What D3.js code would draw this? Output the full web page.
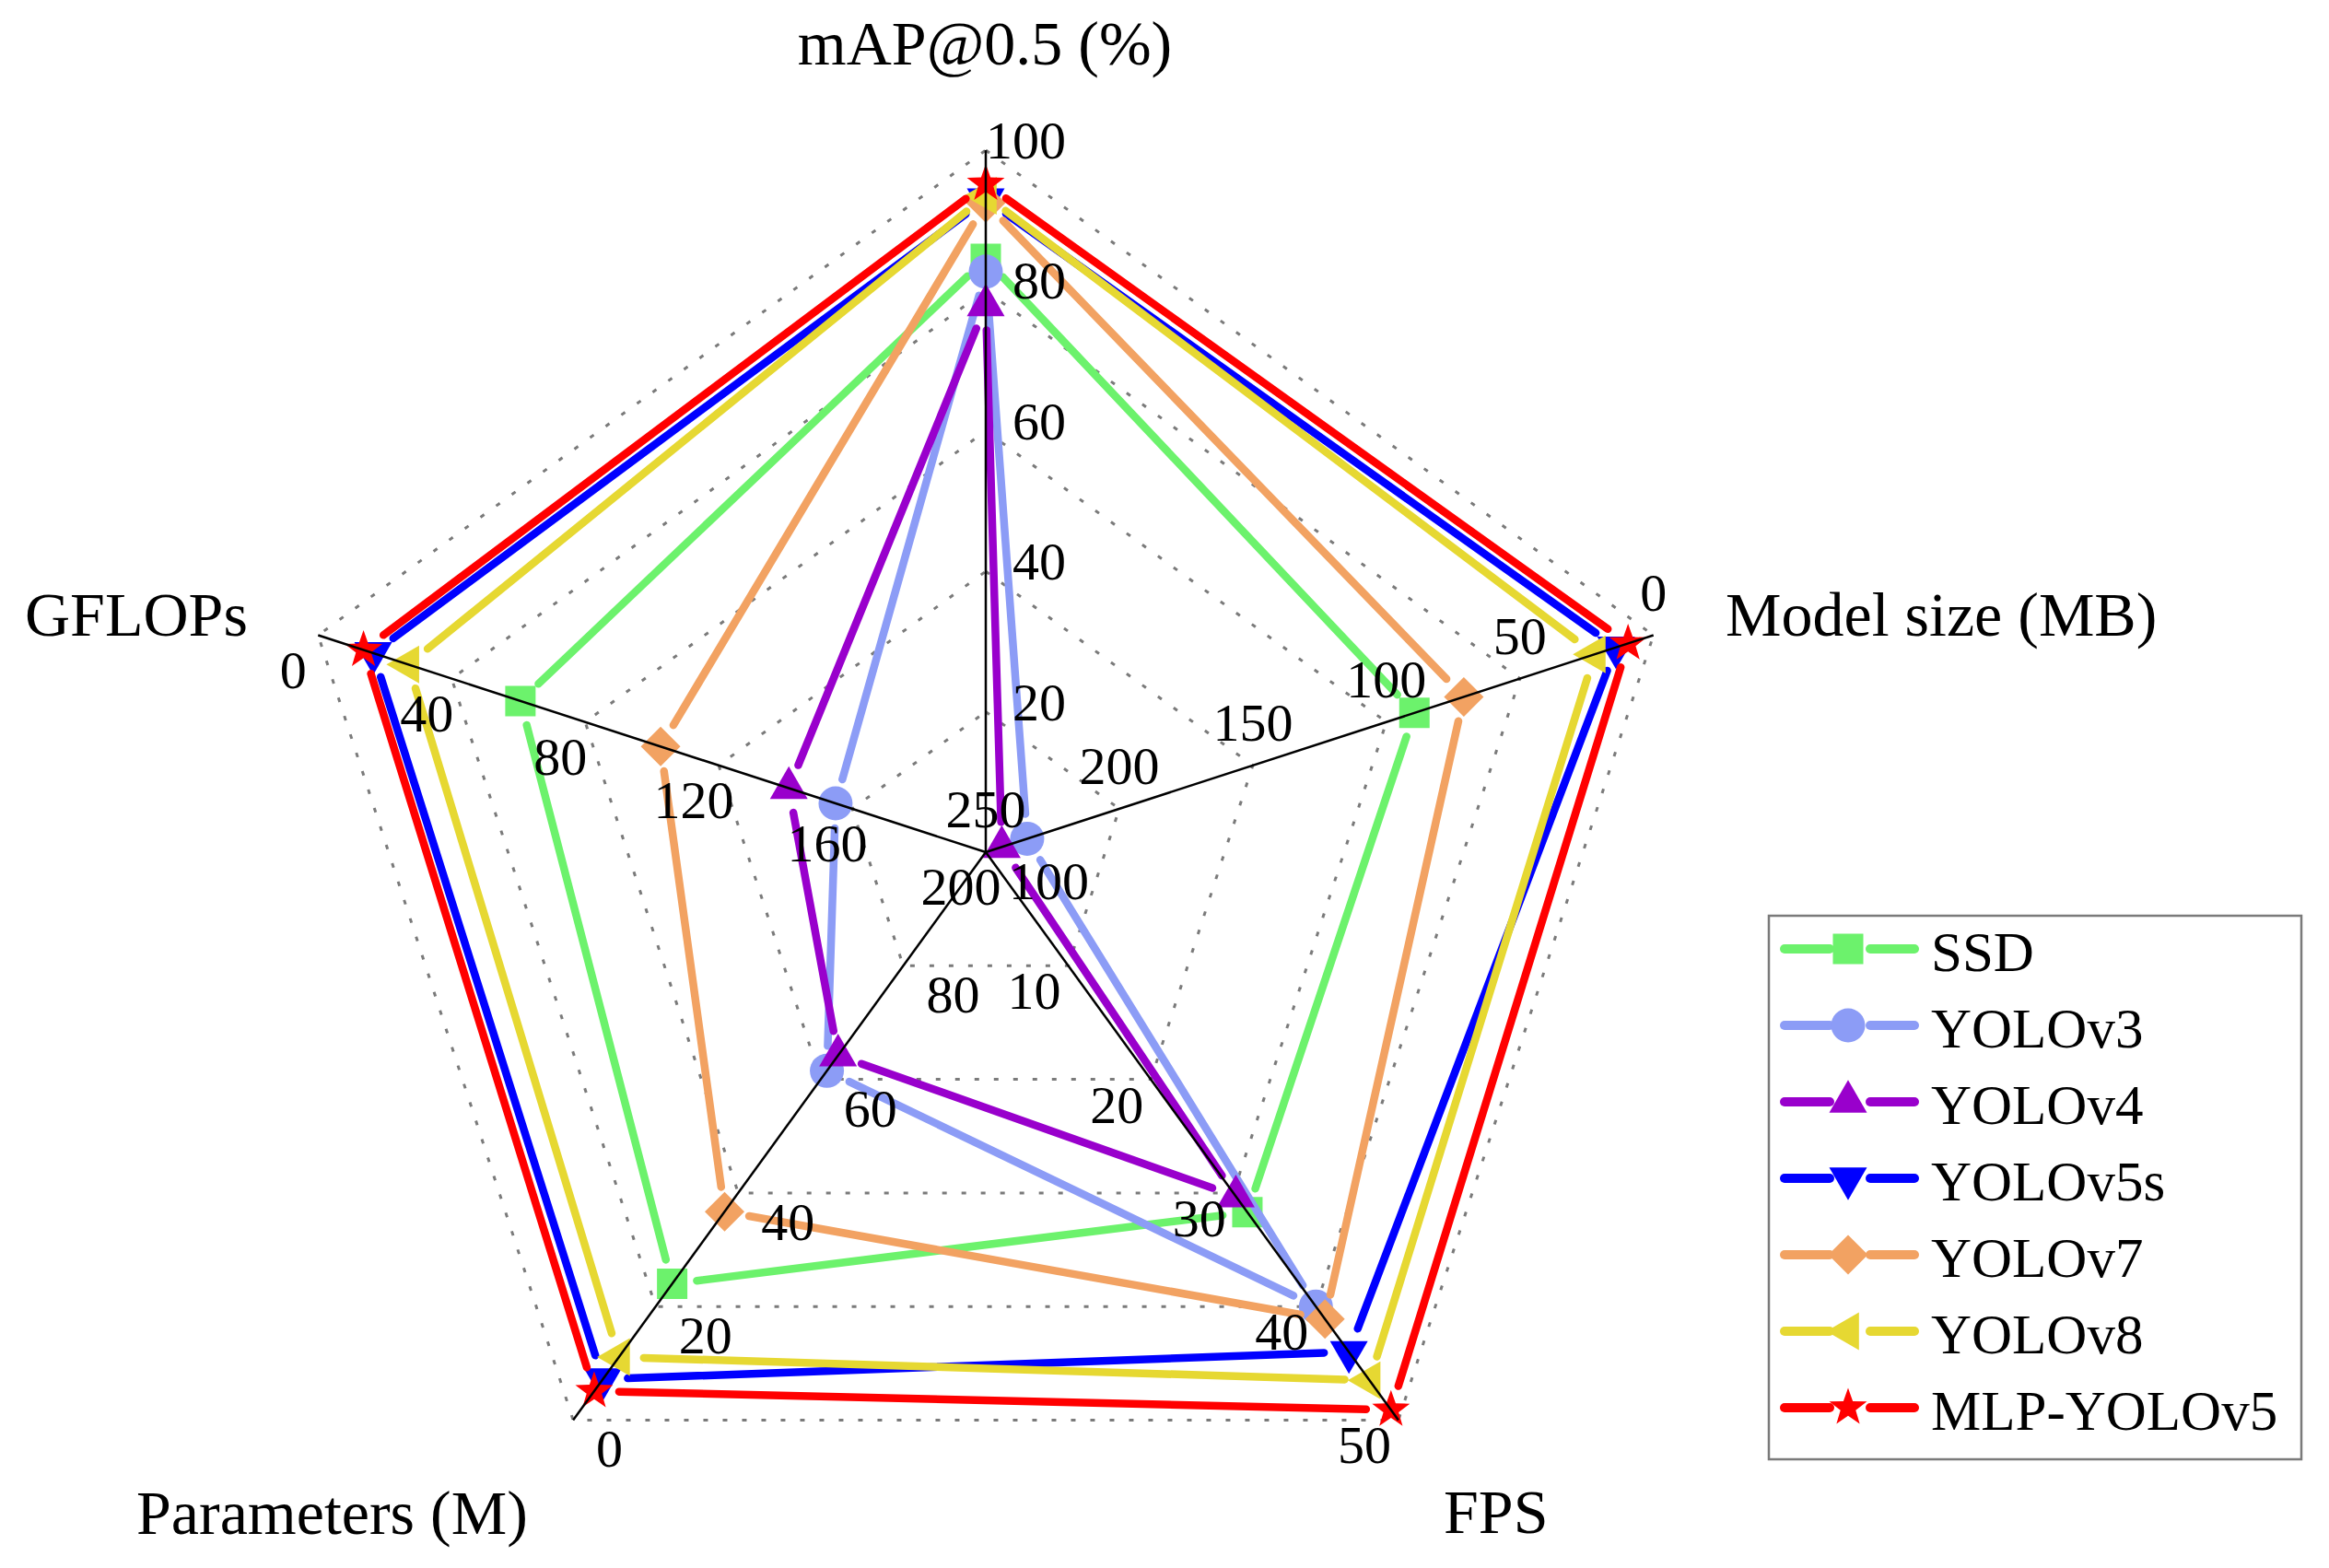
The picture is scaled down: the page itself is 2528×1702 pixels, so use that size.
<!DOCTYPE html>
<html>
<head>
<meta charset="utf-8">
<script src="https://cdn.jsdelivr.net/npm/d3@7"></script>
<style>
  html, body { margin: 0; padding: 0; background: #fff; }
  svg { display: block; }
  text { font-family: "Liberation Serif", "Times New Roman", serif; fill: #000; }
</style>
</head>
<body>
<svg id="chart" width="2528" height="1702"></svg>
<script>
// ---------------- DATA ----------------
const axisNames = ["mAP@0.5 (%)", "Model size (MB)", "FPS", "Parameters (M)", "GFLOPs"];
const models = ["SSD", "YOLOv3", "YOLOv4", "YOLOv5s", "YOLOv7", "YOLOv8", "MLP-YOLOv5"];
const mAP       = [84.5, 82.7, 77.9, 93.0, 92.5, 93.5, 95.2];
const modelSize = [89.5, 234.5, 244, 14, 71, 22, 9.5];
const fps       = [31.7, 40.0, 30.3, 44.0, 41.1, 46.5, 49.1];
const params    = [24.0, 61.5, 64.2, 7.2, 36.7, 11.1, 5.1];
const gflops    = [60.6, 155, 141, 16.5, 102.6, 27, 13.6];

const mapTicks   = [20, 40, 60, 80, 100];
const sizeTicks  = [0, 50, 100, 150, 200, 250];
const fpsTicks   = [10, 20, 30, 40, 50];
const paramTicks = [0, 20, 40, 60, 80, 100];
const flopTicks  = [0, 40, 80, 120, 160, 200];

// ---------------- LAYOUT / STYLE ----------------
const cx = 1070, cy = 925, R = 762;
const angles = [-90, -18, 54, 126, 198].map(d => d * Math.PI / 180);
const colors = ["#6cf26c", "#8c9cf6", "#9900cc", "#0000ff", "#f2a262", "#e6d832", "#ff0000"];
const shapes = ["square", "circle", "triUp", "triDown", "diamond", "triLeft", "star"];

const scales = [
  d3.scaleLinear().domain([0, 100]).range([0, R]),
  d3.scaleLinear().domain([250, 0]).range([0, R]),
  d3.scaleLinear().domain([0, 50]).range([0, R]),
  d3.scaleLinear().domain([100, 0]).range([0, R]),
  d3.scaleLinear().domain([200, 0]).range([0, R])
];
const seriesValues = [mAP, modelSize, fps, params, gflops];
const tickSets = [mapTicks, sizeTicks, fpsTicks, paramTicks, flopTicks];
const tickStyle = [
  {anchor: "end",    dx: 87,  dy: 9},
  {anchor: "middle", dx: 0,   dy: -27},
  {anchor: "end",    dx: -8,  dy: 47},
  {anchor: "start",  dx: 25,  dy: 51},
  {anchor: "middle", dx: -27, dy: 57}
];
const titlePos = [
  {x: 1069, y: 70,   anchor: "middle"},
  {x: 1873, y: 690,  anchor: "start"},
  {x: 1567, y: 1664, anchor: "start"},
  {x: 148,  y: 1665, anchor: "start"},
  {x: 27,   y: 690,  anchor: "start"}
];

function pt(axis, r) {
  return [cx + r * Math.cos(angles[axis]), cy + r * Math.sin(angles[axis])];
}

function markerPath(shape, k) {
  k = k || 1;
  if (shape === "square") { const s = 16.5 * k; return `M${-s},${-s}H${s}V${s}H${-s}Z`; }
  if (shape === "circle") { const r = 18.5 * k; return `M${r},0A${r},${r} 0 1,1 ${-r},0A${r},${r} 0 1,1 ${r},0Z`; }
  const side = 41 * k, h = side * 0.866;
  if (shape === "triUp")   return `M0,${-2*h/3}L${side/2},${h/3}L${-side/2},${h/3}Z`;
  if (shape === "triDown") return `M0,${2*h/3}L${side/2},${-h/3}L${-side/2},${-h/3}Z`;
  if (shape === "triLeft") return `M${-2*h/3},0L${h/3},${side/2}L${h/3},${-side/2}Z`;
  if (shape === "diamond") { const d = 21.5 * k; return `M0,${-d}L${d},0L0,${d}L${-d},0Z`; }
  if (shape === "star") {
    const ro = 21.5 * k, ri = 8.7 * k; let p = "";
    for (let i = 0; i < 10; i++) {
      const a = -Math.PI / 2 + i * Math.PI / 5, r = i % 2 ? ri : ro;
      p += (i ? "L" : "M") + (r * Math.cos(a)).toFixed(2) + "," + (r * Math.sin(a)).toFixed(2);
    }
    return p + "Z";
  }
}

const svg = d3.select("#chart");

// ---------------- GRID ----------------
const gGrid = svg.append("g");
mapTicks.forEach(t => {
  const r = scales[0](t);
  const poly = d3.range(5).map(a => pt(a, r));
  gGrid.append("path")
    .attr("d", d3.line()(poly) + "Z")
    .attr("fill", "none")
    .attr("stroke", "#7a7a7a")
    .attr("stroke-width", 3)
    .attr("stroke-dasharray", "5 16");
});

// ---------------- SERIES ----------------
const gap = 27;
const gSeries = svg.append("g");
models.forEach((m, i) => {
  const pts = d3.range(5).map(a => pt(a, scales[a](seriesValues[a][i])));
  const g = gSeries.append("g");
  for (let k = 0; k < 5; k++) {
    const a = pts[k], b = pts[(k + 1) % 5];
    const dx = b[0] - a[0], dy = b[1] - a[1], len = Math.hypot(dx, dy);
    if (len <= 2 * gap) continue;
    const ux = dx / len, uy = dy / len;
    g.append("line")
      .attr("x1", a[0] + ux * gap).attr("y1", a[1] + uy * gap)
      .attr("x2", b[0] - ux * gap).attr("y2", b[1] - uy * gap)
      .attr("stroke", colors[i]).attr("stroke-width", 8.5)
      .attr("stroke-linecap", "round");
  }
  pts.forEach(p => {
    g.append("path").attr("d", markerPath(shapes[i]))
      .attr("transform", `translate(${p[0]},${p[1]})`)
      .attr("fill", colors[i]);
  });
});

// ---------------- AXES ----------------
const gAxes = svg.append("g");
d3.range(5).forEach(a => {
  const e = pt(a, R);
  gAxes.append("line")
    .attr("x1", cx).attr("y1", cy).attr("x2", e[0]).attr("y2", e[1])
    .attr("stroke", "#000").attr("stroke-width", 2.5);
  tickSets[a].forEach(t => {
    const p = pt(a, scales[a](t));
    gAxes.append("text")
      .attr("x", p[0] + tickStyle[a].dx).attr("y", p[1] + tickStyle[a].dy)
      .attr("text-anchor", tickStyle[a].anchor)
      .attr("font-size", 58)
      .text(t);
  });
  gAxes.append("text")
    .attr("x", titlePos[a].x).attr("y", titlePos[a].y)
    .attr("text-anchor", titlePos[a].anchor)
    .attr("font-size", 68)
    .text(axisNames[a]);
});

// ---------------- LEGEND ----------------
const lg = svg.append("g");
lg.append("rect").attr("x", 1920).attr("y", 994).attr("width", 578).attr("height", 590)
  .attr("fill", "#fff").attr("stroke", "#7a7a7a").attr("stroke-width", 2.5);
models.forEach((m, i) => {
  const y = 1030 + i * 83;
  lg.append("line").attr("x1", 1937).attr("x2", 1986).attr("y1", y).attr("y2", y)
    .attr("stroke", colors[i]).attr("stroke-width", 10).attr("stroke-linecap", "round");
  lg.append("line").attr("x1", 2030).attr("x2", 2078).attr("y1", y).attr("y2", y)
    .attr("stroke", colors[i]).attr("stroke-width", 10).attr("stroke-linecap", "round");
  lg.append("path").attr("d", markerPath(shapes[i], 1.0))
    .attr("transform", `translate(2006,${y})`).attr("fill", colors[i]);
  lg.append("text").attr("x", 2096).attr("y", y + 24).attr("font-size", 61).text(m);
});
</script>
</body>
</html>
